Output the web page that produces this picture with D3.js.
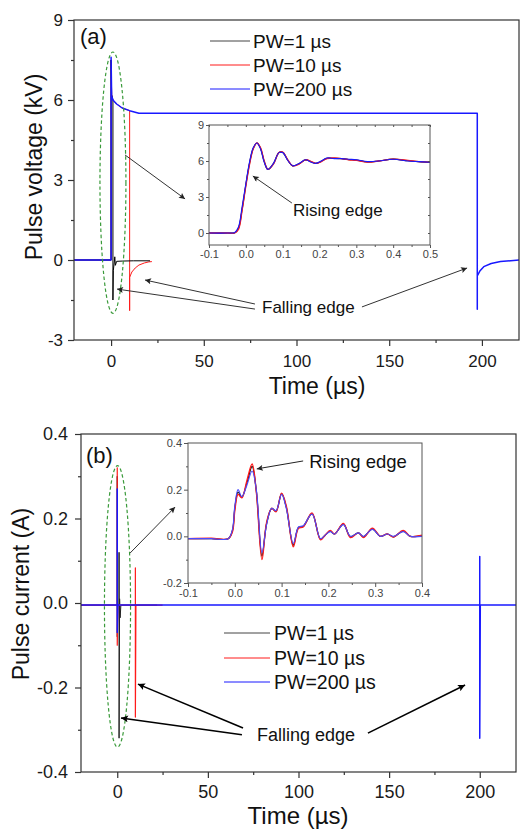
<!DOCTYPE html>
<html><head><meta charset="utf-8">
<script src="https://cdn.jsdelivr.net/npm/d3@7"></script>
<style>
body{margin:0;background:#fff}
svg{display:block}
text{font-family:"Liberation Sans",Arial,sans-serif}
</style>
</head><body>
<svg id="c" width="520" height="830"></svg>
<script>
// ---------- DATA ----------
const seriesNames = ["PW=1 µs", "PW=10 µs", "PW=200 µs"];
const seriesColors = ["#000000", "#ff1a1a", "#1818ff"];

// Panel (a): pulse voltage (kV) vs time (µs)
const aBlackT = [-20, 0, 0, 0.3, 1, 1, 1.2, 1.6, 2, 2.3, 3, 6, 12, 21];
const aBlackV = [0, 0, 7.5, 6.2, 6.0, -1.5, -0.4, -0.15, 0.12, -0.2, -0.05, -0.04, -0.03, -0.03];
const aRedT = [-20, 0, 0, 0.3, 1, 3, 6, 10, 10, 10, 11.2, 13, 15, 18, 20.4, 22];
const aRedV = [0, 0, 7.5, 6.2, 6.0, 5.85, 5.7, 5.6, -1.9, -0.65, -0.45, -0.3, -0.19, -0.11, -0.07, -0.06];
const aBlueT = [-20, 0, 0, 0.3, 1, 3, 6, 10, 15, 50, 100, 150, 197.5, 197.5, 197.5, 199, 201, 205, 210, 220];
const aBlueV = [0, 0, 7.6, 6.15, 6.0, 5.85, 5.7, 5.6, 5.5, 5.5, 5.5, 5.5, 5.5, -1.85, -0.6, -0.4, -0.25, -0.13, -0.06, 0];

// Inset (a): rising edge, time (µs) vs kV
const aInT = [-0.1, -0.05, -0.03, -0.02, -0.01, 0.0, 0.01, 0.02, 0.03, 0.04, 0.05, 0.06, 0.075, 0.09, 0.1, 0.115, 0.127, 0.145, 0.162, 0.178, 0.19, 0.205, 0.22, 0.24, 0.26, 0.28, 0.3, 0.33, 0.36, 0.4, 0.44, 0.47, 0.5];
const aInBlack = [0, 0, 0.02, 0.4, 2.0, 4.0, 5.8, 7.05, 7.5, 7.05, 5.95, 5.3, 5.78, 6.7, 6.72, 6.02, 5.6, 5.78, 6.1, 5.92, 5.8, 5.98, 6.22, 6.22, 6.2, 6.12, 6.08, 5.93, 6.0, 6.15, 6.02, 5.95, 5.9];
const aInRed = [0, 0, 0, 0.3, 1.9, 3.9, 5.7, 7.0, 7.5, 7.1, 6.0, 5.3, 5.75, 6.7, 6.75, 6.05, 5.6, 5.75, 6.1, 5.95, 5.8, 5.95, 6.2, 6.25, 6.2, 6.1, 6.05, 5.9, 6.0, 6.15, 6.05, 5.95, 5.9];
const aInBlue = [0, 0, 0.05, 0.5, 2.2, 4.1, 5.9, 7.1, 7.5, 7.0, 5.9, 5.3, 5.8, 6.7, 6.7, 6.0, 5.6, 5.8, 6.1, 5.9, 5.8, 6.0, 6.25, 6.2, 6.2, 6.15, 6.1, 5.95, 6.0, 6.15, 6.0, 5.95, 5.9];

// Panel (b): pulse current (A) vs time (µs)
const bBlackT = [-20, 0, 0, 0, 0.3, 1, 1, 1, 1.3, 1.6, 2, 22];
const bBlackV = [-0.005, -0.005, 0.3, -0.08, -0.005, -0.005, 0.12, -0.32, 0.01, -0.035, -0.005, -0.005];
const bRedT = [-20, 0, 0, 0, 0.3, 10, 10, 10, 10.3, 25];
const bRedV = [-0.005, -0.005, 0.32, -0.1, -0.005, -0.005, 0.083, -0.27, -0.005, -0.005];
const bBlueT = [-20, 0, 0, 0, 0.3, 200, 200, 200, 200.3, 220];
const bBlueV = [-0.005, -0.005, 0.27, -0.07, -0.005, -0.005, 0.11, -0.32, -0.005, -0.005];

// Inset (b): rising edge, time (µs) vs A
const bInT = [-0.1, -0.05, -0.014, -0.005, 0.0, 0.007, 0.015, 0.026, 0.037, 0.046, 0.058, 0.068, 0.079, 0.088, 0.1, 0.11, 0.125, 0.136, 0.146, 0.165, 0.183, 0.193, 0.204, 0.213, 0.232, 0.247, 0.264, 0.275, 0.294, 0.311, 0.326, 0.339, 0.36, 0.375, 0.4];
const bInBlack = [-0.01, -0.01, -0.01, 0.025, 0.12, 0.19, 0.168, 0.23, 0.3, 0.195, -0.085, 0.055, 0.12, 0.107, 0.183, 0.125, -0.038, 0.038, 0.042, 0.097, -0.012, 0.005, 0.022, 0.01, 0.052, -0.002, 0.015, -0.002, 0.032, 0.0, 0.01, -0.002, 0.022, 0.0, 0.003];
const bInRed = [-0.01, -0.008, -0.01, 0.02, 0.11, 0.18, 0.165, 0.24, 0.31, 0.19, -0.1, 0.06, 0.12, 0.105, 0.185, 0.13, -0.045, 0.035, 0.04, 0.1, -0.015, 0.005, 0.025, 0.01, 0.055, -0.005, 0.015, -0.005, 0.035, 0.0, 0.01, -0.003, 0.025, 0.0, 0.005];
const bInBlue = [-0.01, -0.01, -0.01, 0.03, 0.13, 0.2, 0.17, 0.22, 0.28, 0.2, -0.07, 0.05, 0.12, 0.11, 0.18, 0.12, -0.03, 0.04, 0.045, 0.095, -0.01, 0.005, 0.02, 0.01, 0.05, 0.0, 0.015, 0.0, 0.03, 0.0, 0.01, 0.0, 0.02, 0.0, 0.0];

// Ticks
const aXTicks = [0, 50, 100, 150, 200], aXMinor = [25, 75, 125, 175];
const aYTicks = [-3, 0, 3, 6, 9], aYMinor = [-1.5, 1.5, 4.5, 7.5];
const bYTicks = [-0.4, -0.2, 0.0, 0.2, 0.4], bYMinor = [-0.3, -0.1, 0.1, 0.3];
const aInXTicks = [-0.1, 0.0, 0.1, 0.2, 0.3, 0.4, 0.5], aInXMinor = [-0.05, 0.05, 0.15, 0.25, 0.35, 0.45];
const aInYTicks = [0, 3, 6, 9], aInYMinor = [1.5, 4.5, 7.5];
const bInXTicks = [-0.1, 0.0, 0.1, 0.2, 0.3, 0.4], bInXMinor = [-0.05, 0.05, 0.15, 0.25, 0.35];
const bInYTicks = [-0.2, 0.0, 0.2, 0.4], bInYMinor = [-0.1, 0.1, 0.3];

// ---------- DRAW ----------
const svg = d3.select("#c");
svg.append("rect").attr("width", 520).attr("height", 830).attr("fill", "#fff");
const defs = svg.append("defs");
function marker(id, color, w, h) {
  defs.append("marker").attr("id", id).attr("viewBox", "0 0 10 10")
    .attr("refX", 10).attr("refY", 5).attr("markerUnits", "userSpaceOnUse")
    .attr("markerWidth", w).attr("markerHeight", h).attr("orient", "auto")
    .append("path").attr("d", "M0,0 L10,5 L0,10 L2,5 z").attr("fill", color);
}
marker("ahA", "#222", 10, 6);
marker("ahB", "#000", 12, 7);

const zip = (T, V) => T.map((t, i) => [t, V[i]]);
const fmt = d => (Math.abs(d) < 1e-9 ? (Number.isInteger(d) ? "0" : "0.0") : String(d));
const fmt1 = d => d.toFixed(1);
const fmt0 = d => d.toFixed(0);

function axes(g, x, y, o) {
  const [x0, x1] = x.range(), [y0, y1] = y.range();
  // frame
  g.append("rect").attr("x", x0).attr("y", y1).attr("width", x1 - x0).attr("height", y0 - y1)
    .attr("fill", "none").attr("stroke", o.color).attr("stroke-width", o.sw);
  const bx = g.append("g").attr("transform", `translate(0,${y0})`)
    .call(d3.axisBottom(x).tickValues(o.xt).tickSize(o.ts).tickPadding(o.xpad).tickFormat(o.xf));
  const bxm = g.append("g").attr("transform", `translate(0,${y0})`)
    .call(d3.axisBottom(x).tickValues(o.xm).tickSize(o.ms).tickFormat(""));
  const ly = g.append("g").attr("transform", `translate(${x0},0)`)
    .call(d3.axisLeft(y).tickValues(o.yt).tickSize(o.ts).tickPadding(o.ypad).tickFormat(o.yf));
  const lym = g.append("g").attr("transform", `translate(${x0},0)`)
    .call(d3.axisLeft(y).tickValues(o.ym).tickSize(o.ms).tickFormat(""));
  const all = [bx, bxm, ly, lym];
  if (o.mirror) {
    all.push(g.append("g").attr("transform", `translate(0,${y1})`)
      .call(d3.axisBottom(x).tickValues(o.xt.concat(o.xm)).tickSize(o.ms).tickFormat("")));
    all.push(g.append("g").attr("transform", `translate(${x1},0)`)
      .call(d3.axisLeft(y).tickValues(o.yt.concat(o.ym)).tickSize(o.ms).tickFormat("")));
  }
  all.forEach(a => {
    a.select(".domain").remove();
    a.selectAll("line").attr("stroke", o.color).attr("stroke-width", o.sw);
    a.selectAll("text").attr("font-size", o.fs).attr("fill", o.tc)
      .attr("font-family", '"Liberation Sans", Arial, sans-serif');
  });
}

function traces(g, x, y, list, clipId) {
  const line = d3.line().x(d => x(d[0])).y(d => y(d[1]));
  const gg = g.append("g").attr("clip-path", `url(#${clipId})`);
  list.forEach(s => gg.append("path").datum(s.data).attr("d", s.curve ? line.curve(s.curve)(s.data) : line.curve(d3.curveLinear)(s.data))
    .attr("fill", "none").attr("stroke", s.color).attr("stroke-width", s.w).attr("stroke-linejoin", "round"));
}
function clip(id, x, y) {
  const [x0, x1] = x.range(), [y0, y1] = y.range();
  defs.append("clipPath").attr("id", id).append("rect")
    .attr("x", x0).attr("y", y1).attr("width", x1 - x0).attr("height", y0 - y1);
}
function arrow(g, x, y, p0, p1, stroke, w, mk) {
  g.append("line").attr("x1", x(p0[0])).attr("y1", y(p0[1])).attr("x2", x(p1[0])).attr("y2", y(p1[1]))
    .attr("stroke", stroke).attr("stroke-width", w).attr("marker-end", `url(#${mk})`);
}
function ellipse(g, x, y, c, rt, rv) {
  g.append("ellipse").attr("cx", x(c[0])).attr("cy", y(c[1]))
    .attr("rx", x(c[0] + rt) - x(c[0])).attr("ry", y(c[1] - rv) - y(c[1]))
    .attr("fill", "none").attr("stroke", "#3a9a3a").attr("stroke-width", 1.2).attr("stroke-dasharray", "3.5,2.5");
}
function legend(g, x0, x1, xt, ys, fs) {
  seriesNames.forEach((n, i) => {
    g.append("line").attr("x1", x0).attr("x2", x1).attr("y1", ys[i]).attr("y2", ys[i])
      .attr("stroke", i === 0 ? "#444" : seriesColors[i]).attr("stroke-width", 1);
    g.append("text").attr("x", xt).attr("y", ys[i]).attr("dy", "0.36em").attr("font-size", fs)
      .attr("fill", "#111").text(n);
  });
}

// ===== Panel (a) =====
const xA = d3.scaleLinear().domain([-20, 220]).range([74, 519]);
const yA = d3.scaleLinear().domain([-3, 9]).range([340, 20]);
const gA = svg.append("g");
clip("clipA", xA, yA);
traces(gA, xA, yA, [
  {data: zip(aRedT, aRedV), color: seriesColors[1], w: 1},
  {data: zip(aBlackT, aBlackV), color: seriesColors[0], w: 1},
  {data: zip(aBlueT, aBlueV), color: seriesColors[2], w: 1.5}
], "clipA");
axes(gA, xA, yA, {xt: aXTicks, xm: aXMinor, yt: aYTicks, ym: aYMinor, ts: 6, ms: 3,
  xpad: 9, ypad: 5, xf: fmt0, yf: fmt0, fs: 17, color: "#333", sw: 1.2, tc: "#1a1a1a"});
gA.append("text").attr("x", 80).attr("y", 44).attr("font-size", 22).attr("fill", "#111").text("(a)");
gA.append("text").attr("x", 317).attr("y", 394).attr("text-anchor", "middle").attr("font-size", 23).attr("fill", "#111").text("Time (µs)");
gA.append("text").attr("transform", "translate(42,167) rotate(-90)").attr("text-anchor", "middle")
  .attr("font-size", 23).attr("fill", "#111").text("Pulse voltage (kV)");
legend(gA, 210, 250, 253, [41, 65, 89], 19);
ellipse(gA, xA, yA, [1.0, 2.9], 7, 4.9);
arrow(gA, xA, yA, [7.5, 3.94], [39.9, 2.29], "#333", 1, "ahA");
gA.append("text").attr("x", xA(81.4)).attr("y", yA(-1.76)).attr("dy", "0.36em").attr("font-size", 17).attr("fill", "#111").text("Falling edge");
arrow(gA, xA, yA, [77.6, -1.65], [18.3, -0.75], "#333", 1, "ahA");
arrow(gA, xA, yA, [77.6, -1.84], [3.2, -1.09], "#333", 1, "ahA");
arrow(gA, xA, yA, [135.3, -1.76], [192, -0.3], "#333", 1, "ahA");

// Inset (a)
const xAi = d3.scaleLinear().domain([-0.1, 0.5]).range([209, 430]);
const yAi = d3.scaleLinear().domain([-1, 9]).range([245, 125]);
const gAi = svg.append("g");
gAi.append("rect").attr("x", 209).attr("y", 125).attr("width", 221).attr("height", 120).attr("fill", "#fff");
clip("clipAi", xAi, yAi);
const cr = d3.curveCatmullRom.alpha(0.5);
traces(gAi, xAi, yAi, [
  {data: zip(aInT, aInBlack), color: seriesColors[0], w: 1.2, curve: cr},
  {data: zip(aInT, aInRed), color: seriesColors[1], w: 1.3, curve: cr},
  {data: zip(aInT, aInBlue), color: seriesColors[2], w: 1.1, curve: cr}
], "clipAi");
axes(gAi, xAi, yAi, {xt: aInXTicks, xm: aInXMinor, yt: aInYTicks, ym: aInYMinor, ts: 3, ms: 2,
  xpad: 2, ypad: 2, xf: fmt1, yf: fmt0, fs: 11, color: "#555", sw: 1, tc: "#444", mirror: true});
arrow(gAi, xAi, yAi, [0.125, 2.5], [0.019, 4.75], "#333", 1, "ahA");
gAi.append("text").attr("x", xAi(0.128)).attr("y", yAi(1.42)).attr("font-size", 17).attr("fill", "#111").text("Rising edge");

// ===== Panel (b) =====
const xB = d3.scaleLinear().domain([-20, 220]).range([81, 516]);
const yB = d3.scaleLinear().domain([-0.4, 0.4]).range([772, 434]);
const gB = svg.append("g");
clip("clipB", xB, yB);
traces(gB, xB, yB, [
  {data: zip(bBlackT, bBlackV), color: "#222", w: 1},
  {data: zip(bRedT, bRedV), color: seriesColors[1], w: 1.2},
  {data: zip(bBlueT, bBlueV), color: seriesColors[2], w: 1.5}
], "clipB");
axes(gB, xB, yB, {xt: aXTicks, xm: aXMinor, yt: bYTicks, ym: bYMinor, ts: 6, ms: 3,
  xpad: 7, ypad: 7, xf: fmt0, yf: fmt1, fs: 18, color: "#333", sw: 1.2, tc: "#1a1a1a"});
gB.append("text").attr("x", 86).attr("y", 463).attr("font-size", 22).attr("fill", "#111").text("(b)");
gB.append("text").attr("x", 298).attr("y", 824).attr("text-anchor", "middle").attr("font-size", 24).attr("fill", "#111").text("Time (µs)");
gB.append("text").attr("transform", "translate(29,594) rotate(-90)").attr("text-anchor", "middle")
  .attr("font-size", 23).attr("fill", "#111").text("Pulse current (A)");
legend(gB, 224, 270, 274, [633, 658, 682], 19.5);
ellipse(gB, xB, yB, [0.14, -0.008], 7.2, 0.333);
arrow(gB, xB, yB, [7.03, 0.118], [31.9, 0.227], "#333", 1, "ahA");
gB.append("text").attr("x", xB(77.1)).attr("y", yB(-0.327)).attr("font-size", 18).attr("fill", "#111").text("Falling edge");
arrow(gB, xB, yB, [69.4, -0.296], [11.4, -0.192], "#000", 1.6, "ahB");
arrow(gB, xB, yB, [68.8, -0.312], [2.07, -0.272], "#000", 1.6, "ahB");
arrow(gB, xB, yB, [138.3, -0.308], [191.9, -0.194], "#000", 1.6, "ahB");

// Inset (b)
const xBi = d3.scaleLinear().domain([-0.1, 0.4]).range([188, 422]);
const yBi = d3.scaleLinear().domain([-0.2, 0.4]).range([583, 443]);
const gBi = svg.append("g");
gBi.append("rect").attr("x", 188).attr("y", 443).attr("width", 234).attr("height", 140).attr("fill", "#fff");
clip("clipBi", xBi, yBi);
traces(gBi, xBi, yBi, [
  {data: zip(bInT, bInBlack), color: seriesColors[0], w: 1.2, curve: cr},
  {data: zip(bInT, bInRed), color: seriesColors[1], w: 1.4, curve: cr},
  {data: zip(bInT, bInBlue), color: "#4a4aff", w: 1.1, curve: cr}
], "clipBi");
axes(gBi, xBi, yBi, {xt: bInXTicks, xm: bInXMinor, yt: bInYTicks, ym: bInYMinor, ts: 4, ms: 2,
  xpad: 2, ypad: 2, xf: fmt1, yf: fmt1, fs: 11, color: "#555", sw: 1, tc: "#444"});
arrow(gBi, xBi, yBi, [0.146, 0.323], [0.047, 0.289], "#222", 1, "ahA");
gBi.append("text").attr("x", xBi(0.159)).attr("y", yBi(0.293)).attr("font-size", 18.5).attr("fill", "#111").text("Rising edge");
</script>
</body></html>
